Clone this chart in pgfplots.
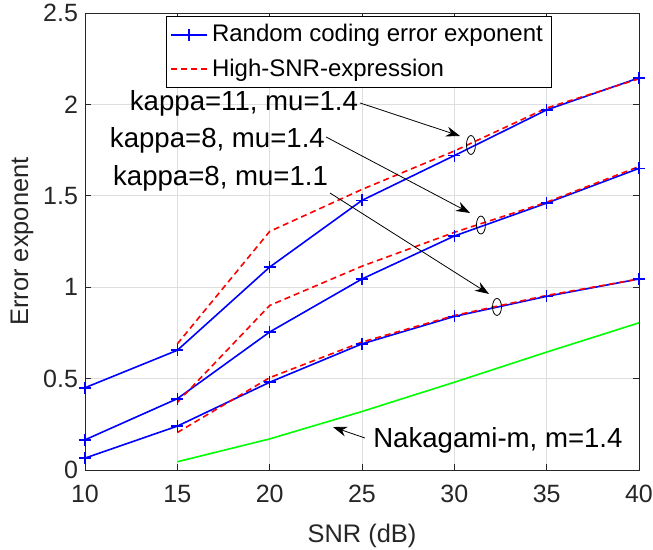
\documentclass[border=0pt]{standalone}
\usepackage{fontspec}
\setmainfont{Liberation Sans}
\usepackage{pgfplots}
\pgfplotsset{compat=1.18}
\usetikzlibrary{arrows.meta}
\definecolor{gridgray}{rgb}{0.87,0.87,0.87}
\definecolor{axgray}{rgb}{0.15,0.15,0.15}
\begin{document}
\begin{tikzpicture}
\begin{axis}[
  scale only axis, width=277pt, height=228.5pt,
  xmin=10, xmax=40, ymin=0, ymax=2.5,
  xtick={10,15,...,40}, ytick={0,0.5,...,2.5},
  grid=major, major grid style={gridgray, line width=0.4pt},
  tick align=inside, tick pos=both, major tick length=3pt,
  axis line style={axgray, line width=0.4pt},
  every tick/.style={axgray, line width=0.4pt},
  /pgf/number format/assume math mode=true,
  tick label style={font=\fontsize{12.5}{15}\selectfont, text=axgray},
  xticklabel style={yshift=-4pt},
  xlabel={SNR (dB)}, ylabel={Error exponent},
  label style={font=\fontsize{12.7}{15}\selectfont, text=axgray},
  xlabel style={at={(axis description cs:0.5,-0.145)}, anchor=center},
  ylabel style={at={(axis description cs:-0.1137,0.5)}, anchor=center},
  legend style={at={(axis description cs:0.494,0.993)}, anchor=north,
    font=\fontsize{12}{14}\selectfont, draw=black, line width=0.4pt,
    inner xsep=2pt, inner ysep=2pt, row sep=3pt},
  legend cell align=left,
  legend image code/.code={\draw[mark repeat=2,mark phase=2,#1] plot coordinates {(0pt,0pt) (9pt,0pt) (18pt,0pt)};},
]
% random coding error exponent (blue)
\addplot[blue, line width=0.8pt, mark=+, mark size=3pt, mark options={solid}] coordinates {
 (10,0.45)(15,0.655)(20,1.11)(25,1.475)(30,1.72)(35,1.97)(40,2.145)};
\addlegendentry{Random coding error exponent}
\addplot[blue, line width=0.8pt, mark=+, mark size=3pt, forget plot] coordinates {
 (10,0.165)(15,0.39)(20,0.755)(25,1.045)(30,1.28)(35,1.46)(40,1.65)};
\addplot[blue, line width=0.8pt, mark=+, mark size=3pt, forget plot] coordinates {
 (10,0.065)(15,0.24)(20,0.48)(25,0.69)(30,0.84)(35,0.95)(40,1.045)};
% high-SNR expression (red dashed)
\addplot[red, line width=0.8pt, dash pattern=on 3pt off 2pt] coordinates {
 (15,0.69)(20,1.305)(25,1.535)(30,1.745)(35,1.98)(40,2.14)};
\addlegendentry{High-SNR-expression}
\addplot[red, line width=0.8pt, dash pattern=on 3pt off 2pt, forget plot] coordinates {
 (15,0.37)(20,0.90)(25,1.115)(30,1.30)(35,1.465)(40,1.66)};
\addplot[red, line width=0.8pt, dash pattern=on 3pt off 2pt, forget plot] coordinates {
 (15,0.205)(20,0.505)(25,0.70)(30,0.845)(35,0.955)(40,1.045)};
% Nakagami-m (green)
\addplot[color={rgb,1:red,0;green,1;blue,0}, line width=0.8pt, forget plot] coordinates {
 (15,0.045)(20,0.17)(25,0.32)(30,0.48)(35,0.645)(40,0.805)};
% annotations
\begin{scope}[font=\fontsize{13.8}{16}\selectfont]
\node at (axis cs:18.61,2.008) {kappa=11, mu=1.4};
\node at (axis cs:17.17,1.805) {kappa=8, mu=1.4};
\node at (axis cs:17.34,1.597) {kappa=8, mu=1.1};
\node at (axis cs:32.36,0.164) {Nakagami-m, m=1.4};
\end{scope}
\begin{scope}[line width=0.4pt, -{Stealth[length=7pt,width=5pt]}]
\draw (axis cs:24.89,2.008) -- (axis cs:30.31,1.827);
\draw (axis cs:23.05,1.822) -- (axis cs:30.85,1.406);
\draw (axis cs:23.27,1.515) -- (axis cs:31.88,0.963);
\draw (axis cs:25.16,0.175) -- (axis cs:23.43,0.235);
\end{scope}
\draw[line width=0.4pt] (axis cs:30.90,1.778) ellipse [x radius=2.25pt, y radius=4.75pt];
\draw[line width=0.4pt] (axis cs:31.44,1.340) ellipse [x radius=2.25pt, y radius=4.5pt];
\draw[line width=0.4pt] (axis cs:32.31,0.892) ellipse [x radius=2.25pt, y radius=4.25pt];
\coordinate (bl) at (rel axis cs:0,0);
\coordinate (tr) at (rel axis cs:1,1);
\end{axis}
\pgfresetboundingbox
\path[use as bounding box] ([shift={(-42.5pt,-40pt)}]bl) rectangle ([shift={(7pt,6.5pt)}]tr);
\end{tikzpicture}
\end{document}
